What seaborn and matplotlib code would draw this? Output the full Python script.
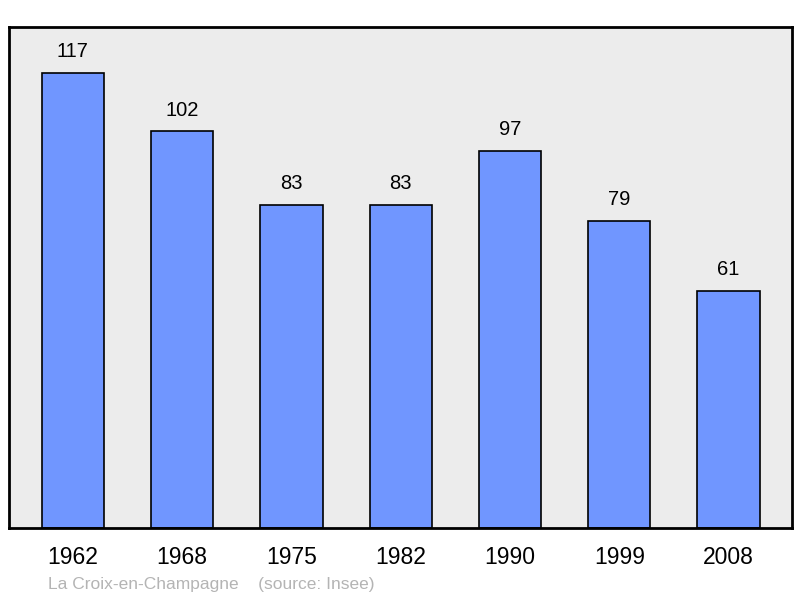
import seaborn as sns
import pandas as pd
import matplotlib.pyplot as plt

years = ["1962", "1968", "1975", "1982", "1990", "1999", "2008"]
population = [117, 102, 83, 83, 97, 79, 61]
commune = "La Croix-en-Champagne"
source = "(source: Insee)"

data = pd.DataFrame({"year": years, "pop": population})

sns.set_theme(style="white")
plt.rcParams['font.family'] = ['Liberation Sans', 'DejaVu Sans']

fig = plt.figure(figsize=(8, 5.98), dpi=100)
ax = fig.add_axes([9 / 800, 70 / 598, 783 / 800, 501 / 598])
ax.set_facecolor("#ececec")

sns.barplot(data=data, x="year", y="pop", color="#7096ff", saturation=1,
            width=0.57, edgecolor="black", linewidth=1.2, ax=ax)

for i, v in enumerate(population):
    ax.text(i, v + 3.0, str(v), ha="center", va="bottom", fontsize=14.5, color="black")

ax.set_xlim(-0.585, 6.58)
ax.set_ylim(0, 128.8)
ax.set_yticks([])
ax.set_xlabel("")
ax.set_ylabel("")
ax.tick_params(axis="x", length=0, pad=13, labelsize=16.5, labelcolor="black")
for s in ax.spines.values():
    s.set_visible(True)
    s.set_color("black")
    s.set_linewidth(2)

fig.text(48 / 800, 1 - 584 / 598, commune + "    " + source,
         ha="left", va="center", fontsize=12.5, color="#b4b4b4")

plt.savefig("out.png", dpi=100)
